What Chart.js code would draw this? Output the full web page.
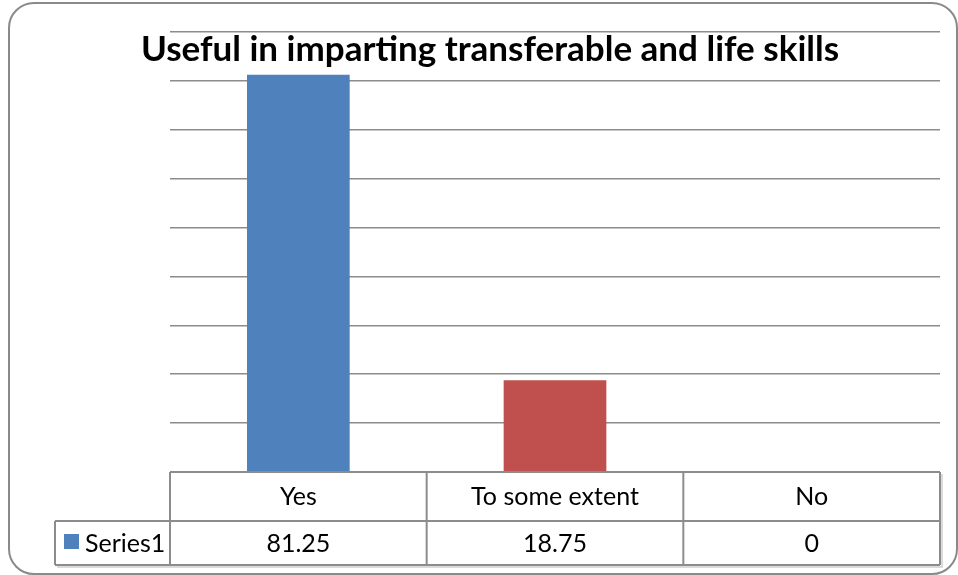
<!DOCTYPE html>
<html lang="en">
<head>
  <meta charset="UTF-8">
  <title>Useful in imparting transferable and life skills</title>
  <script src="https://cdn.jsdelivr.net/npm/chart.js"></script>
  <style>
    html, body {
      margin: 0;
      padding: 0;
      background: #fff;
    }
    .chart-box {
      position: relative;
      width: 958px;
      height: 575px;
      overflow: hidden;
    }
    .frame {
      position: absolute;
      left: 8px;
      top: 2px;
      width: 946px;
      height: 569px;
      border: 2px solid #8a8a8a;
      border-radius: 26px;
      pointer-events: none;
    }
  </style>
</head>
<body>
<div class="chart-box">
  <canvas id="skillsChart" width="958" height="575"></canvas>
  <div class="frame"></div>
</div>

<script>
  const chartTitle = 'Useful in imparting transferable and life skills';
  const categories = ['Yes', 'To some extent', 'No'];
  const seriesName = 'Series1';
  const series1 = [81.25, 18.75, 0];
  const valueLabels = ['81.25', '18.75', '0'];
  const barColors = ['#4F81BD', '#C0504D', '#9BBB59'];

  const lineColor = '#8c8c8c';
  const fontName = 'Lato, "Open Sans", sans-serif';

  // title + data table below the plot, drawn like the Excel one
  const tablePlugin = {
    id: 'dataTable',
    afterDraw(chart) {
      const ctx = chart.ctx;
      const area = chart.chartArea;
      const x = chart.scales.x;
      const headTop = area.bottom;
      const rowTop = headTop + 49;
      const rowBottom = rowTop + 44;
      const legendLeft = 55;
      const half = (x.getPixelForValue(1) - x.getPixelForValue(0)) / 2;

      ctx.save();

      // title
      ctx.fillStyle = '#000';
      ctx.font = 'bold 35px ' + fontName;
      ctx.textAlign = 'center';
      ctx.textBaseline = 'middle';
      ctx.fillText(chartTitle, 490, 50);

      // light shadow on the right/bottom
      ctx.strokeStyle = '#d0d0d0';
      ctx.lineWidth = 1.5;
      ctx.beginPath();
      ctx.moveTo(area.right + 2, headTop + 2);
      ctx.lineTo(area.right + 2, rowBottom + 2);
      ctx.lineTo(legendLeft + 2, rowBottom + 2);
      ctx.stroke();

      // grid of the table
      ctx.strokeStyle = lineColor;
      ctx.lineWidth = 2;
      ctx.beginPath();
      ctx.moveTo(area.left, headTop);
      ctx.lineTo(area.right, headTop);
      ctx.moveTo(legendLeft, rowTop);
      ctx.lineTo(area.right, rowTop);
      ctx.moveTo(legendLeft, rowBottom);
      ctx.lineTo(area.right, rowBottom);
      ctx.moveTo(legendLeft, rowTop);
      ctx.lineTo(legendLeft, rowBottom);
      categories.forEach((c, i) => {
        const cx = x.getPixelForValue(i);
        ctx.moveTo(cx - half, headTop);
        ctx.lineTo(cx - half, rowBottom);
      });
      ctx.moveTo(area.right, headTop);
      ctx.lineTo(area.right, rowBottom);
      ctx.stroke();

      // texts
      ctx.fillStyle = '#000';
      ctx.font = '25px ' + fontName;
      ctx.textAlign = 'center';
      ctx.textBaseline = 'middle';
      categories.forEach((c, i) => {
        const cx = x.getPixelForValue(i);
        ctx.fillText(c, cx, headTop + 25);
        ctx.fillText(valueLabels[i], cx, rowTop + 23);
      });

      // legend key
      ctx.fillStyle = barColors[0];
      ctx.fillRect(64, rowTop + 13, 15, 15);
      ctx.fillStyle = '#000';
      ctx.textAlign = 'left';
      ctx.fillText(seriesName, 85, rowTop + 23);

      ctx.restore();
    }
  };

  new Chart(document.getElementById('skillsChart'), {
    type: 'bar',
    data: {
      labels: categories,
      datasets: [{
        label: seriesName,
        data: series1,
        backgroundColor: barColors,
        borderWidth: 0,
        categoryPercentage: 1,
        barPercentage: 0.4
      }]
    },
    options: {
      responsive: false,
      animation: false,
      devicePixelRatio: 1,
      layout: {
        padding: { left: 170, right: 18, top: 32, bottom: 103 }
      },
      plugins: {
        legend: { display: false },
        title: { display: false },
        tooltip: { enabled: false }
      },
      scales: {
        x: {
          display: false
        },
        y: {
          min: 0,
          max: 90,
          ticks: { stepSize: 10, display: false },
          grid: { color: lineColor, lineWidth: 1.5, drawTicks: false },
          border: { display: false }
        }
      }
    },
    plugins: [tablePlugin]
  });
</script>
</body>
</html>
